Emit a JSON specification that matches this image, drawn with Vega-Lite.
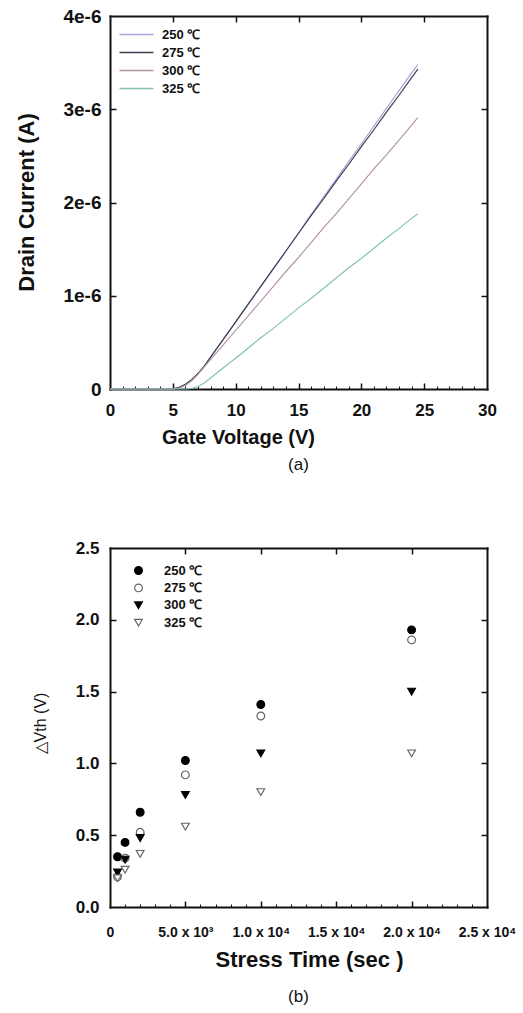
{
  "$schema": "https://vega.github.io/schema/vega-lite/v6.json",
  "background": "white",
  "padding": {"left": 15, "top": 7, "right": 0, "bottom": 0},
  "bounds": "flush",
  "spacing": 159,
  "resolve": {"legend": {"color": "independent", "shape": "independent", "fill": "independent", "stroke": "independent"}, "scale": {"color": "independent", "shape": "independent", "fill": "independent", "stroke": "independent"}},
  "config": {
    "font": "Liberation Sans",
    "view": {"stroke": null},
    "axis": {"domain": false, "grid": false, "tickColor": "#111", "tickWidth": 1.5, "domainColor": "#111", "domainWidth": 2, "domainCap": "square", "labelColor": "#111", "titleColor": "#111", "labelFont": "Liberation Sans", "titleFont": "Liberation Sans", "labelFontWeight": "bold", "labelFlush": false, "labelOverlap": false},
    "legend": {"labelFont": "Liberation Sans", "labelFontWeight": "bold", "labelColor": "#111", "padding": 0}
  },
  "datasets": {
    "iv": [
      {"T": "250 ℃", "V": 0, "I": 0}, {"T": "250 ℃", "V": 4.8, "I": 0}, {"T": "250 ℃", "V": 5, "I": 1.3e-9}, {"T": "250 ℃", "V": 5.5, "I": 1.65e-8}, {"T": "250 ℃", "V": 6, "I": 4.8e-8}, {"T": "250 ℃", "V": 6.5, "I": 9.7e-8}, {"T": "250 ℃", "V": 7, "I": 1.63e-7}, {"T": "250 ℃", "V": 7.5, "I": 2.43e-7}, {"T": "250 ℃", "V": 8, "I": 3.4e-7}, {"T": "250 ℃", "V": 9, "I": 5.3e-7}, {"T": "250 ℃", "V": 10, "I": 7.2e-7}, {"T": "250 ℃", "V": 11, "I": 9.1e-7}, {"T": "250 ℃", "V": 12, "I": 1.10e-6}, {"T": "250 ℃", "V": 13, "I": 1.29e-6}, {"T": "250 ℃", "V": 14, "I": 1.48e-6}, {"T": "250 ℃", "V": 15, "I": 1.67e-6}, {"T": "250 ℃", "V": 16, "I": 1.87e-6}, {"T": "250 ℃", "V": 17, "I": 2.06e-6}, {"T": "250 ℃", "V": 18, "I": 2.25e-6}, {"T": "250 ℃", "V": 19, "I": 2.44e-6}, {"T": "250 ℃", "V": 20, "I": 2.63e-6}, {"T": "250 ℃", "V": 21, "I": 2.82e-6}, {"T": "250 ℃", "V": 22, "I": 3.01e-6}, {"T": "250 ℃", "V": 23, "I": 3.20e-6}, {"T": "250 ℃", "V": 24, "I": 3.39e-6}, {"T": "250 ℃", "V": 24.5, "I": 3.48e-6},
      {"T": "275 ℃", "V": 0, "I": 0}, {"T": "275 ℃", "V": 4.8, "I": 0}, {"T": "275 ℃", "V": 5, "I": 2e-9}, {"T": "275 ℃", "V": 5.5, "I": 1.8e-8}, {"T": "275 ℃", "V": 6, "I": 5.0e-8}, {"T": "275 ℃", "V": 6.5, "I": 1.0e-7}, {"T": "275 ℃", "V": 7, "I": 1.66e-7}, {"T": "275 ℃", "V": 7.5, "I": 2.46e-7}, {"T": "275 ℃", "V": 8, "I": 3.42e-7}, {"T": "275 ℃", "V": 9, "I": 5.3e-7}, {"T": "275 ℃", "V": 10, "I": 7.2e-7}, {"T": "275 ℃", "V": 11, "I": 9.1e-7}, {"T": "275 ℃", "V": 12, "I": 1.10e-6}, {"T": "275 ℃", "V": 13, "I": 1.29e-6}, {"T": "275 ℃", "V": 14, "I": 1.48e-6}, {"T": "275 ℃", "V": 15, "I": 1.67e-6}, {"T": "275 ℃", "V": 16, "I": 1.86e-6}, {"T": "275 ℃", "V": 17, "I": 2.04e-6}, {"T": "275 ℃", "V": 18, "I": 2.23e-6}, {"T": "275 ℃", "V": 19, "I": 2.41e-6}, {"T": "275 ℃", "V": 20, "I": 2.60e-6}, {"T": "275 ℃", "V": 21, "I": 2.78e-6}, {"T": "275 ℃", "V": 22, "I": 2.97e-6}, {"T": "275 ℃", "V": 23, "I": 3.15e-6}, {"T": "275 ℃", "V": 24, "I": 3.34e-6}, {"T": "275 ℃", "V": 24.5, "I": 3.43e-6},
      {"T": "300 ℃", "V": 0, "I": 0}, {"T": "300 ℃", "V": 5, "I": 0}, {"T": "300 ℃", "V": 5.5, "I": 9.8e-9}, {"T": "300 ℃", "V": 6, "I": 3.9e-8}, {"T": "300 ℃", "V": 6.5, "I": 8.8e-8}, {"T": "300 ℃", "V": 7, "I": 1.57e-7}, {"T": "300 ℃", "V": 8, "I": 3.14e-7}, {"T": "300 ℃", "V": 9, "I": 4.71e-7}, {"T": "300 ℃", "V": 10, "I": 6.28e-7}, {"T": "300 ℃", "V": 11, "I": 7.85e-7}, {"T": "300 ℃", "V": 12, "I": 9.42e-7}, {"T": "300 ℃", "V": 13, "I": 1.10e-6}, {"T": "300 ℃", "V": 14, "I": 1.26e-6}, {"T": "300 ℃", "V": 15, "I": 1.41e-6}, {"T": "300 ℃", "V": 16, "I": 1.57e-6}, {"T": "300 ℃", "V": 17, "I": 1.73e-6}, {"T": "300 ℃", "V": 18, "I": 1.88e-6}, {"T": "300 ℃", "V": 19, "I": 2.04e-6}, {"T": "300 ℃", "V": 20, "I": 2.20e-6}, {"T": "300 ℃", "V": 21, "I": 2.36e-6}, {"T": "300 ℃", "V": 22, "I": 2.51e-6}, {"T": "300 ℃", "V": 23, "I": 2.67e-6}, {"T": "300 ℃", "V": 24, "I": 2.83e-6}, {"T": "300 ℃", "V": 24.5, "I": 2.91e-6},
      {"T": "325 ℃", "V": 0, "I": 0}, {"T": "325 ℃", "V": 6.1, "I": 0}, {"T": "325 ℃", "V": 6.5, "I": 5.3e-9}, {"T": "325 ℃", "V": 7, "I": 2.7e-8}, {"T": "325 ℃", "V": 7.5, "I": 6.5e-8}, {"T": "325 ℃", "V": 8, "I": 1.18e-7}, {"T": "325 ℃", "V": 9, "I": 2.25e-7}, {"T": "325 ℃", "V": 10, "I": 3.3e-7}, {"T": "325 ℃", "V": 11, "I": 4.4e-7}, {"T": "325 ℃", "V": 12, "I": 5.5e-7}, {"T": "325 ℃", "V": 13, "I": 6.5e-7}, {"T": "325 ℃", "V": 14, "I": 7.6e-7}, {"T": "325 ℃", "V": 15, "I": 8.7e-7}, {"T": "325 ℃", "V": 16, "I": 9.7e-7}, {"T": "325 ℃", "V": 17, "I": 1.08e-6}, {"T": "325 ℃", "V": 18, "I": 1.19e-6}, {"T": "325 ℃", "V": 19, "I": 1.30e-6}, {"T": "325 ℃", "V": 20, "I": 1.40e-6}, {"T": "325 ℃", "V": 21, "I": 1.51e-6}, {"T": "325 ℃", "V": 22, "I": 1.62e-6}, {"T": "325 ℃", "V": 23, "I": 1.72e-6}, {"T": "325 ℃", "V": 24, "I": 1.83e-6}, {"T": "325 ℃", "V": 24.5, "I": 1.88e-6}
    ],
    "vth": [
      {"T": "250 ℃", "t": 500, "dV": 0.35}, {"T": "250 ℃", "t": 1000, "dV": 0.45}, {"T": "250 ℃", "t": 2000, "dV": 0.66}, {"T": "250 ℃", "t": 5000, "dV": 1.02}, {"T": "250 ℃", "t": 10000, "dV": 1.41}, {"T": "250 ℃", "t": 20000, "dV": 1.93},
      {"T": "275 ℃", "t": 500, "dV": 0.21}, {"T": "275 ℃", "t": 1000, "dV": 0.34}, {"T": "275 ℃", "t": 2000, "dV": 0.52}, {"T": "275 ℃", "t": 5000, "dV": 0.92}, {"T": "275 ℃", "t": 10000, "dV": 1.33}, {"T": "275 ℃", "t": 20000, "dV": 1.86},
      {"T": "300 ℃", "t": 500, "dV": 0.24}, {"T": "300 ℃", "t": 1000, "dV": 0.33}, {"T": "300 ℃", "t": 2000, "dV": 0.48}, {"T": "300 ℃", "t": 5000, "dV": 0.78}, {"T": "300 ℃", "t": 10000, "dV": 1.07}, {"T": "300 ℃", "t": 20000, "dV": 1.50},
      {"T": "325 ℃", "t": 500, "dV": 0.20}, {"T": "325 ℃", "t": 1000, "dV": 0.26}, {"T": "325 ℃", "t": 2000, "dV": 0.37}, {"T": "325 ℃", "t": 5000, "dV": 0.56}, {"T": "325 ℃", "t": 10000, "dV": 0.80}, {"T": "325 ℃", "t": 20000, "dV": 1.07}
    ]
  },
  "vconcat": [
    {
      "width": 377,
      "height": 373,
      "title": {"text": "(a)", "orient": "bottom", "frame": "group", "anchor": "middle", "fontSize": 17, "fontWeight": "normal", "font": "Liberation Sans", "color": "#111", "offset": 10},
      "data": {"name": "iv"},
      "layer": [
        {
          "mark": {"type": "line", "strokeWidth": 1.2},
          "encoding": {
            "x": {"field": "V", "type": "quantitative", "scale": {"domain": [0, 30], "nice": false},
              "axis": {"orient": "bottom", "values": [0, 5, 10, 15, 20, 25, 30], "ticks": false, "domain": true, "labelPadding": 13, "labelFontSize": 17,
                "title": "Gate Voltage (V)", "titleFontSize": 20, "titleFontWeight": "bold", "titleX": 128, "titleY": 48, "titleBaseline": "middle"}},
            "y": {"field": "I", "type": "quantitative", "scale": {"domain": [0, 4e-6], "nice": false},
              "axis": {"orient": "left", "values": [0, 1e-6, 2e-6, 3e-6, 4e-6], "ticks": false, "domain": true, "labelPadding": 9, "labelFontSize": 19,
                "labelExpr": "datum.value == 0 ? '0' : format(datum.value * 1e6, '.0f') + 'e-6'",
                "title": "Drain Current (A)", "titleFontSize": 22, "titleFontWeight": "bold", "titleX": -84, "titleY": 186, "titleBaseline": "middle"}},
            "color": {"field": "T", "type": "nominal",
              "scale": {"domain": ["250 ℃", "275 ℃", "300 ℃", "325 ℃"], "range": ["#a5a5dc", "#3c3c50", "#b596a4", "#86c0b5"]},
              "legend": {"orient": "none", "legendX": 20, "legendY": 12, "title": null, "symbolType": "M-3.4,0H3.4", "symbolSize": 100, "symbolStrokeWidth": 1.5, "labelOffset": 19, "labelFontSize": 13, "rowPadding": 4}}
          }
        },
        {
          "mark": {"type": "line", "opacity": 0},
          "encoding": {
            "x": {"field": "V", "type": "quantitative", "axis": {"orient": "top", "offset": -373, "values": [5, 10, 15, 20, 25], "tickSize": 6, "labels": false, "title": null}},
            "y": {"field": "I", "type": "quantitative", "axis": {"orient": "right", "offset": -377, "values": [1e-6, 2e-6, 3e-6], "tickSize": 6, "labels": false, "title": null}},
            "detail": {"field": "T"}
          }
        },
        {
          "mark": {"type": "line", "opacity": 0},
          "encoding": {
            "x": {"field": "V", "type": "quantitative", "axis": {"orient": "top", "offset": -373, "values": [1,2,3,4,6,7,8,9,11,12,13,14,16,17,18,19,21,22,23,24,26,27,28,29], "tickSize": 3, "tickWidth": 1, "labels": false, "title": null}},
            "y": {"field": "I", "type": "quantitative", "axis": {"orient": "left", "offset": -377, "values": [1e-6, 2e-6, 3e-6], "tickSize": 6, "domain": true, "labels": false, "title": null}},
            "detail": {"field": "T"}
          }
        },
        {
          "mark": {"type": "line", "opacity": 0},
          "encoding": {
            "x": {"field": "V", "type": "quantitative", "axis": {"orient": "bottom", "offset": -373, "values": [5, 10, 15, 20, 25], "tickSize": 6, "domain": true, "labels": false, "title": null}},
            "y": {"field": "I", "type": "quantitative", "axis": null},
            "detail": {"field": "T"}
          }
        }
      ],
      "resolve": {"axis": {"x": "independent", "y": "independent"}}
    },
    {
      "width": 377,
      "height": 359,
      "title": {"text": "(b)", "orient": "bottom", "frame": "group", "anchor": "middle", "fontSize": 17, "fontWeight": "normal", "font": "Liberation Sans", "color": "#111", "offset": 19},
      "data": {"name": "vth"},
      "layer": [
        {
          "mark": {"type": "point", "filled": true, "size": 60, "strokeWidth": 1.2, "opacity": 1},
          "encoding": {
            "x": {"field": "t", "type": "quantitative", "scale": {"domain": [0, 25000], "nice": false},
              "axis": {"orient": "bottom", "values": [0, 5000, 10000, 15000, 20000, 25000], "ticks": false, "domain": true, "labelPadding": 18, "labelFontSize": 14,
                "labelExpr": "datum.value == 0 ? '0' : datum.value < 10000 ? format(datum.value / 1000, '.1f') + ' x 10³' : format(datum.value / 10000, '.1f') + ' x 10⁴'",
                "title": "Stress Time (sec )", "titleFontSize": 22, "titleFontWeight": "bold", "titleX": 199, "titleY": 52, "titleBaseline": "middle"}},
            "y": {"field": "dV", "type": "quantitative", "scale": {"domain": [0, 2.5], "nice": false},
              "axis": {"orient": "left", "values": [0, 0.5, 1, 1.5, 2, 2.5], "format": ".1f", "ticks": false, "domain": true, "labelPadding": 11, "labelFontSize": 17,
                "title": "△Vth (V)", "titleFontSize": 16, "titleFontWeight": "normal", "titleX": -70, "titleY": 175, "titleBaseline": "middle"}},
            "shape": {"field": "T", "type": "nominal",
              "scale": {"domain": ["250 ℃", "275 ℃", "300 ℃", "325 ℃"], "range": ["circle", "circle", "triangle-down", "triangle-down"]},
              "legend": {"orient": "none", "legendX": 22, "legendY": 16, "title": null, "symbolSize": 60, "symbolStrokeWidth": 1.2, "labelOffset": 19, "labelFontSize": 13, "rowPadding": 3.4}},
            "fill": {"field": "T", "type": "nominal",
              "scale": {"domain": ["250 ℃", "275 ℃", "300 ℃", "325 ℃"], "range": ["#000000", "#ffffff", "#000000", "#ffffff"]},
              "legend": {"orient": "none", "legendX": 22, "legendY": 16, "title": null, "symbolSize": 60, "symbolStrokeWidth": 1.2, "labelOffset": 19, "labelFontSize": 13, "rowPadding": 3.4}},
            "stroke": {"field": "T", "type": "nominal",
              "scale": {"domain": ["250 ℃", "275 ℃", "300 ℃", "325 ℃"], "range": ["#000000", "#666666", "#000000", "#666666"]},
              "legend": {"orient": "none", "legendX": 22, "legendY": 16, "title": null, "symbolSize": 60, "symbolStrokeWidth": 1.2, "labelOffset": 19, "labelFontSize": 13, "rowPadding": 3.4}}
          }
        },
        {
          "mark": {"type": "point", "opacity": 0},
          "encoding": {
            "x": {"field": "t", "type": "quantitative", "axis": {"orient": "top", "offset": -359, "values": [5000, 10000, 15000, 20000], "tickSize": 6, "labels": false, "title": null}},
            "y": {"field": "dV", "type": "quantitative", "axis": {"orient": "right", "offset": -377, "values": [0.5, 1, 1.5, 2], "tickSize": 6, "labels": false, "title": null}}
          }
        },
        {
          "mark": {"type": "point", "opacity": 0},
          "encoding": {
            "x": {"field": "t", "type": "quantitative", "axis": {"orient": "top", "offset": -359, "values": [1000,2000,3000,4000,6000,7000,8000,9000,11000,12000,13000,14000,16000,17000,18000,19000,21000,22000,23000,24000], "tickSize": 3, "tickWidth": 1, "labels": false, "title": null}},
            "y": {"field": "dV", "type": "quantitative", "axis": {"orient": "left", "offset": -377, "values": [0.5, 1, 1.5, 2], "tickSize": 6, "domain": true, "labels": false, "title": null}}
          }
        },
        {
          "mark": {"type": "point", "opacity": 0},
          "encoding": {
            "x": {"field": "t", "type": "quantitative", "axis": {"orient": "bottom", "offset": -359, "values": [5000, 10000, 15000, 20000], "tickSize": 6, "domain": true, "labels": false, "title": null}},
            "y": {"field": "dV", "type": "quantitative", "axis": null}
          }
        }
      ],
      "resolve": {"axis": {"x": "independent", "y": "independent"}}
    }
  ]
}
